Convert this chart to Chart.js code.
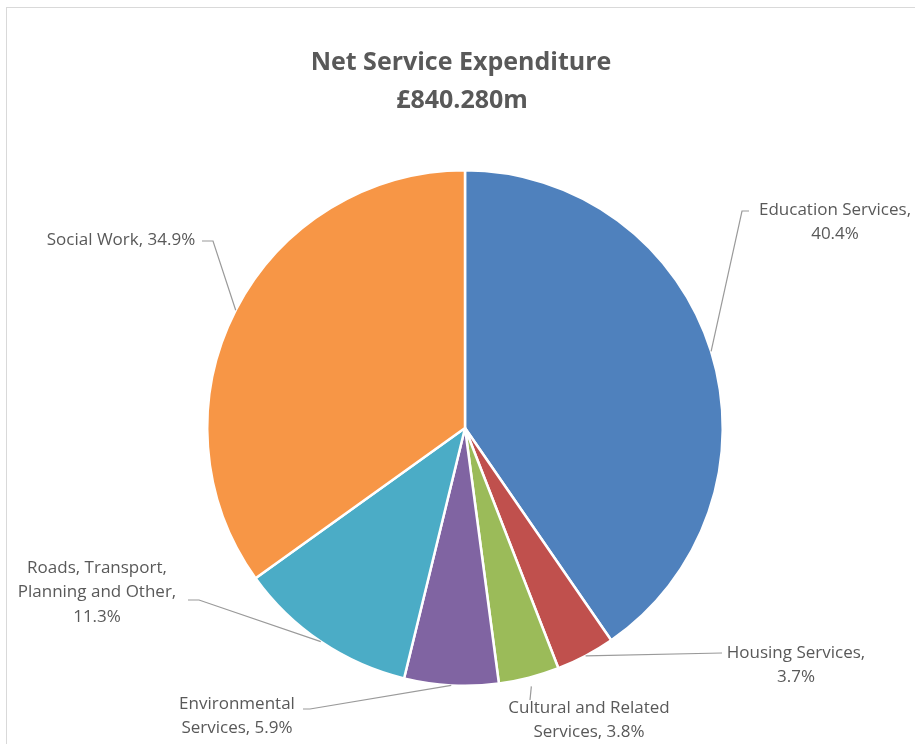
<!DOCTYPE html>
<html>
<head>
<meta charset="utf-8">
<title>Net Service Expenditure</title>
<script src="https://cdn.jsdelivr.net/npm/chart.js@4.4.1/dist/chart.umd.min.js"></script>
<style>
    html, body { margin: 0; padding: 0; background: #ffffff; }
    #wrap { width: 915px; height: 744px; position: relative; }
</style>
</head>
<body>
<div id="wrap"><canvas id="pie" width="915" height="744"></canvas></div>
<script>
// Chart data
const titleLines = ['Net Service Expenditure', '£840.280m'];
const categories = [
    'Education Services',
    'Housing Services',
    'Cultural and Related Services',
    'Environmental Services',
    'Roads, Transport, Planning and Other',
    'Social Work'
];
const shares = [40.4, 3.7, 3.8, 5.9, 11.3, 34.9];
const sliceColors = ['#4f81bd', '#c0504d', '#9bbb59', '#8064a2', '#4bacc6', '#f79646'];

// Data label text (as wrapped in the original)
const labelLines = [
    ['Education Services,', '40.4%'],
    ['Housing Services,', '3.7%'],
    ['Cultural and Related', 'Services, 3.8%'],
    ['Environmental', 'Services, 5.9%'],
    ['Roads, Transport,', 'Planning and Other,', '11.3%'],
    ['Social Work, 34.9%']
];

// Label placement: text centre (first line), leader elbow and leader end
const labelLayout = [
    { x: 835, y: 210, elbow: [742, 211], end: [749, 211] },
    { x: 796, y: 653, elbow: null, end: [722, 653] },
    { x: 589, y: 708, elbow: null, end: [530, 700], startGap: 9 },
    { x: 237, y: 704, elbow: [310, 709], end: [303, 709] },
    { x: 97, y: 568, elbow: [199, 600], end: [188, 600] },
    { x: 121, y: 240, elbow: [213, 241], end: [202, 241] }
];

const LINE_H = 24.5;

const pieDecor = {
    id: 'pieDecor',
    beforeDraw(chart) {
        const ctx = chart.ctx;
        ctx.save();
        ctx.fillStyle = '#ffffff';
        ctx.fillRect(0, 0, chart.width, chart.height);
        // outer frame of the chart object
        ctx.strokeStyle = '#d9d9d9';
        ctx.lineWidth = 1;
        ctx.strokeRect(6.5, 7.5, 1000, 1000);
        // title
        ctx.fillStyle = '#595959';
        ctx.font = 'bold 25px "Open Sans"';
        ctx.textAlign = 'center';
        ctx.textBaseline = 'middle';
        ctx.fillText(titleLines[0], 461, 63);
        ctx.fillText(titleLines[1], 462, 101);
        ctx.restore();
    },
    afterDraw(chart) {
        const ctx = chart.ctx;
        const arcs = chart.getDatasetMeta(0).data;
        ctx.save();
        ctx.strokeStyle = '#9a9a9a';
        ctx.lineWidth = 1.2;
        arcs.forEach((arc, i) => {
            const p = arc.getProps(['x', 'y', 'startAngle', 'endAngle', 'outerRadius'], true);
            const mid = (p.startAngle + p.endAngle) / 2;
            const lay = labelLayout[i];
            const r = p.outerRadius + (lay.startGap || 0);
            const sx = p.x + Math.cos(mid) * r;
            const sy = p.y + Math.sin(mid) * r;
            ctx.beginPath();
            ctx.moveTo(sx, sy);
            if (lay.elbow) ctx.lineTo(lay.elbow[0], lay.elbow[1]);
            ctx.lineTo(lay.end[0], lay.end[1]);
            ctx.stroke();
        });
        ctx.fillStyle = '#595959';
        ctx.font = '17px "Open Sans"';
        ctx.textAlign = 'center';
        ctx.textBaseline = 'middle';
        labelLines.forEach((lines, i) => {
            const lay = labelLayout[i];
            lines.forEach((t, j) => ctx.fillText(t, lay.x, lay.y + j * LINE_H));
        });
        ctx.restore();
    }
};

new Chart(document.getElementById('pie'), {
    type: 'pie',
    data: {
        labels: categories,
        datasets: [{
            data: shares,
            backgroundColor: sliceColors,
            borderColor: '#ffffff',
            borderWidth: 2.5,
            hoverOffset: 0
        }]
    },
    options: {
        responsive: false,
        animation: false,
        layout: {
            padding: { left: 206, right: 191, top: 169, bottom: 57 }
        },
        plugins: {
            legend: { display: false },
            tooltip: { enabled: false }
        }
    },
    plugins: [pieDecor]
});
</script>
</body>
</html>
